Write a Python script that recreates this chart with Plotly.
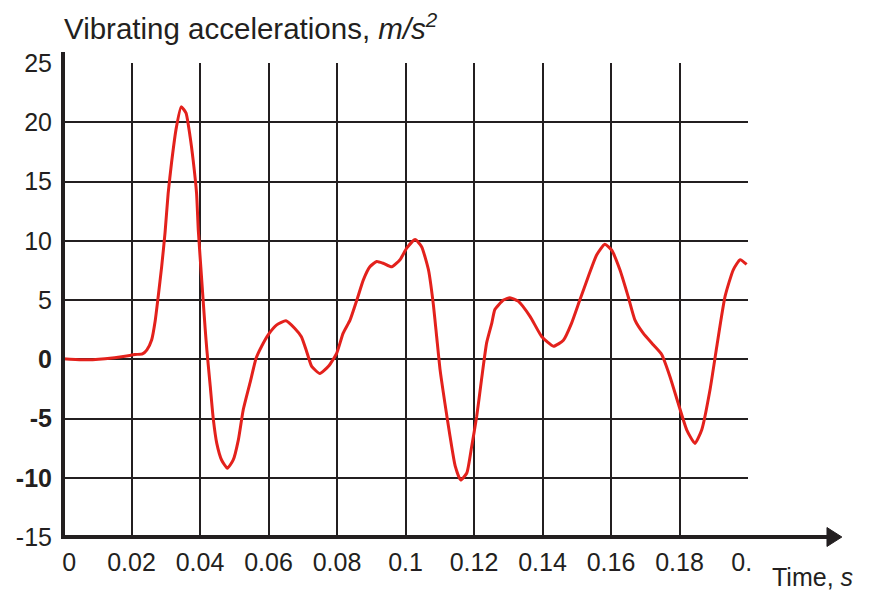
import plotly.graph_objects as go

# Time samples (s) and measured vibrating acceleration (m/s^2)
time_s = [
    0.0, 0.0055, 0.0123, 0.0181, 0.0210, 0.0232, 0.0245, 0.0259, 0.0269, 0.0278,
    0.0288, 0.0298, 0.0307, 0.0317, 0.0330, 0.0345, 0.0359, 0.0371, 0.0380, 0.0390,
    0.0395, 0.0405, 0.0415, 0.0420, 0.0430, 0.0439, 0.0449, 0.0463, 0.0480, 0.0497,
    0.0512, 0.0526, 0.0546, 0.0564, 0.0580, 0.0600, 0.0624, 0.0651, 0.0677, 0.0696,
    0.0712, 0.0726, 0.0750, 0.0775, 0.0799, 0.0818, 0.0838, 0.0858, 0.0877, 0.0896,
    0.0916, 0.0935, 0.0960, 0.0984, 0.1004, 0.1028, 0.1047, 0.1067, 0.1081, 0.1091,
    0.1101, 0.1115, 0.1130, 0.1145, 0.1161, 0.1179, 0.1193, 0.1208, 0.1222, 0.1237,
    0.1252, 0.1261, 0.1286, 0.1305, 0.1329, 0.1364, 0.1398, 0.1432, 0.1461, 0.1485,
    0.1509, 0.1534, 0.1558, 0.1582, 0.1602, 0.1626, 0.1650, 0.1670, 0.1694, 0.1724,
    0.1748, 0.1772, 0.1796, 0.1821, 0.1845, 0.1865, 0.1889, 0.1909, 0.1933, 0.1957,
    0.1977, 0.1996,
]
acceleration = [
    0.05, -0.05, 0.05, 0.25, 0.4, 0.45, 0.8, 1.65, 3.2, 5.3,
    7.8, 10.7, 14.0, 16.6, 19.4, 21.3, 20.8, 18.8, 16.8, 14.0,
    10.9, 6.7, 2.6, 0.8, -2.3, -5.1, -7.1, -8.5, -9.2, -8.5,
    -6.8, -4.3, -2.0, 0.1, 1.1, 2.1, 2.9, 3.25, 2.6, 1.9,
    0.6, -0.6, -1.2, -0.6, 0.5, 2.2, 3.3, 5.0, 6.7, 7.8,
    8.25, 8.1, 7.8, 8.4, 9.4, 10.1, 9.5, 7.55, 4.7, 1.9,
    -0.9, -3.7, -6.5, -9.0, -10.2, -9.6, -7.4, -4.8, -1.7, 1.4,
    3.05, 4.2, 5.0, 5.2, 4.9, 3.6, 1.9, 1.1, 1.6, 3.05,
    5.0, 7.0, 8.8, 9.7, 9.2, 7.55, 5.3, 3.3, 2.2, 1.2,
    0.4, -1.45, -3.7, -5.95, -7.1, -5.95, -2.6, 1.1, 5.3, 7.55,
    8.4, 8.0,
]

# Axis ticks
x_tickvals = [0.0, 0.02, 0.04, 0.06, 0.08, 0.10, 0.12, 0.14, 0.16, 0.18, 0.20]
x_ticktext = ["\u20020", "0.02", "0.04", "0.06", "0.08", "0.1", "0.12", "0.14", "0.16", "0.18",
              "0.\u2002"]
y_tickvals = [25, 20, 15, 10, 5, 0, -5, -10, -15]
y_ticktext = ["25", "20", "15", "10", "5", "<b>0</b>", "<b>-5</b>", "<b>-10</b>", "-15"]

INK = "#231f20"
RED = "#e3211c"
FONT = "Liberation Sans, Arial, sans-serif"

fig = go.Figure()
fig.add_trace(go.Scatter(
    x=time_s, y=acceleration, mode="lines",
    line=dict(color=RED, width=3, shape="spline", smoothing=0.5),
    hoverinfo="skip", showlegend=False,
))

fig.update_layout(
    width=873, height=592,
    margin=dict(l=63, r=125, t=63, b=55),
    paper_bgcolor="white", plot_bgcolor="white",
    font=dict(family=FONT, color=INK, size=25),
    xaxis=dict(
        range=[0, 0.2], tickmode="array", tickvals=x_tickvals, ticktext=x_ticktext,
        showgrid=True, gridcolor=INK, gridwidth=2, zeroline=False, showline=False,
        ticks="", ticklabelstandoff=8, tickfont=dict(size=25, color=INK),
    ),
    yaxis=dict(
        range=[-15, 25], tickmode="array", tickvals=y_tickvals, ticktext=y_ticktext,
        showgrid=True, gridcolor=INK, gridwidth=2, zeroline=False, showline=False,
        ticks="", ticklabelstandoff=10, tickfont=dict(size=25, color=INK),
    ),
    shapes=[
        # vertical axis, extending slightly above the top gridline
        dict(type="line", xref="paper", yref="paper", x0=0, x1=0, y0=-0.004, y1=1.023,
             line=dict(color=INK, width=4), layer="above"),
        # horizontal time axis running out to the arrow
        dict(type="line", xref="paper", yref="paper", x0=0, x1=1.118, y0=0, y1=0,
             line=dict(color=INK, width=4), layer="above"),
        # arrowhead
        dict(type="path", xref="paper", yref="paper",
             path="M 1.1153 0.02 L 1.137 0 L 1.1153 -0.02 Z",
             fillcolor=INK, line=dict(color=INK, width=1), layer="above"),
    ],
    annotations=[
        dict(text="Vibrating accelerations, <i>m/s<sup>2</sup></i>",
             xref="paper", yref="paper", x=-0.002, y=1.076, xanchor="left", yanchor="middle",
             showarrow=False, font=dict(size=29.5, color=INK, family=FONT)),
        dict(text="Time, <i>s</i>",
             xref="paper", yref="paper", x=1.032, y=-0.0844, xanchor="left", yanchor="middle",
             showarrow=False, font=dict(size=25, color=INK, family=FONT)),
    ],
)

fig.write_html("out.html")
